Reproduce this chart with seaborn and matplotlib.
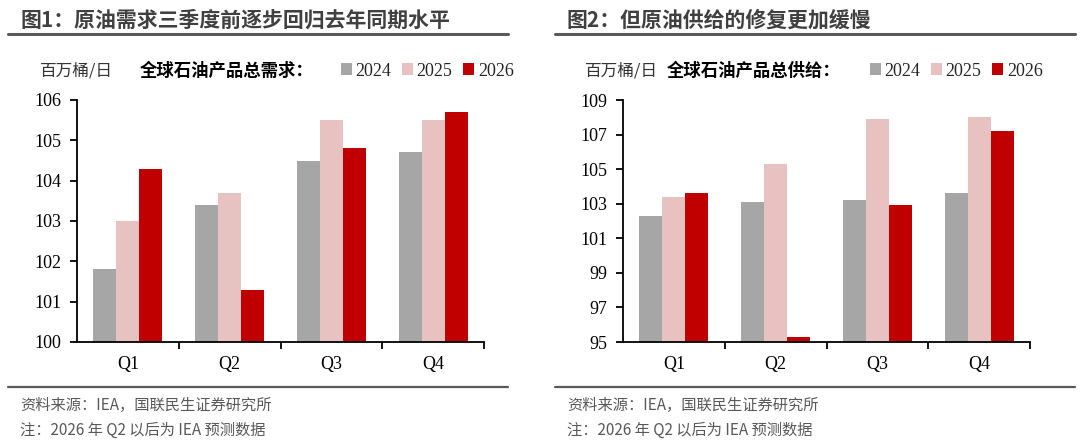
import matplotlib
matplotlib.use("Agg")
import matplotlib.pyplot as plt
from matplotlib.lines import Line2D
import pandas as pd
import seaborn as sns

# data
quarters = ["Q1", "Q2", "Q3", "Q4"]
years = ["2024", "2025", "2026"]
demand_2024 = [101.8, 103.4, 104.5, 104.7]
demand_2025 = [103.0, 103.7, 105.5, 105.5]
demand_2026 = [104.3, 101.3, 104.8, 105.7]
supply_2024 = [102.3, 103.1, 103.2, 103.6]
supply_2025 = [103.4, 105.3, 107.9, 108.0]
supply_2026 = [103.6, 95.3, 102.9, 107.2]

colors = ["#A6A6A6", "#E8C1C1", "#C00000"]

sns.set_theme(style="white")
plt.rcParams["font.family"] = ["Noto Sans CJK SC", "DejaVu Sans"]
SERIF = ["Liberation Serif", "DejaVu Serif"]


def long_table(s24, s25, s26):
    rows = []
    for yr, vals in zip(years, [s24, s25, s26]):
        for q, v in zip(quarters, vals):
            rows.append({"quarter": q, "year": yr, "value": v})
    return pd.DataFrame(rows)


def draw(ax, df, ylim, yticks):
    sns.barplot(data=df, x="quarter", y="value", hue="year", palette=colors,
                width=0.68, saturation=1, linewidth=0, ax=ax, legend=True)
    ax.set_ylim(*ylim)
    ax.set_xlim(-0.5, 3.5)
    ax.set_yticks(yticks)
    ax.set_xlabel("")
    ax.set_ylabel("")
    for s in ["top", "right"]:
        ax.spines[s].set_visible(False)
    for s in ["left", "bottom"]:
        ax.spines[s].set_color("black")
        ax.spines[s].set_linewidth(1.3)
    ax.tick_params(axis="y", direction="out", length=5, width=1.3, color="black",
                   left=True, labelsize=13, pad=6)
    ax.tick_params(axis="x", which="major", length=0, labelsize=13, pad=10)
    ax.set_xticks([0.5, 1.5, 2.5, 3.5], minor=True)
    ax.tick_params(axis="x", which="minor", direction="out", length=5, width=1.3,
                   color="black", bottom=True)
    for lab in ax.get_xticklabels() + ax.get_yticklabels():
        lab.set_fontfamily(SERIF)
        lab.set_color("black")
    handles, labels = ax.get_legend_handles_labels()
    ax.get_legend().remove()
    return handles, labels


fig = plt.figure(figsize=(10.8, 4.44), dpi=100)
ax1 = fig.add_axes([77 / 1080, 102 / 444, 407 / 1080, 242 / 444])
ax2 = fig.add_axes([623 / 1080, 102 / 444, 407 / 1080, 242 / 444])

h1, l1 = draw(ax1, long_table(demand_2024, demand_2025, demand_2026),
              (100, 106), range(100, 107))
h2, l2 = draw(ax2, long_table(supply_2024, supply_2025, supply_2026),
              (95, 109), range(95, 110, 2))

panels = [
    (8, 508, "图1：原油需求三季度前逐步回归去年同期水平", 40, 140, "全球石油产品总需求：", 332, h1, l1),
    (555, 1075, "图2：但原油供给的修复更加缓慢", 585, 667, "全球石油产品总供给：", 861, h2, l2),
]
for x0, x1, title, ux, tx, ttl, lx, hh, ll in panels:
    fig.text((x0 + 12) / 1080, 1 - 20 / 444, title, fontsize=15, fontweight="bold",
             color="#404040", va="center", ha="left")
    fig.add_artist(Line2D([x0 / 1080, x1 / 1080], [1 - 34 / 444] * 2,
                          color="#595959", lw=2.2))
    fig.add_artist(Line2D([x0 / 1080, x1 / 1080], [1 - 387 / 444] * 2,
                          color="#595959", lw=1.6))
    fig.text(ux / 1080, 1 - 71 / 444, "百万桶/日", fontsize=12, color="#333333",
             va="center", ha="left")
    fig.text(tx / 1080, 1 - 71 / 444, ttl, fontsize=12.5, fontweight="bold",
             color="black", va="center", ha="left")
    leg = fig.legend(hh, ll, loc="center left", bbox_to_anchor=(lx / 1080, 1 - 71 / 444),
                     ncol=3, frameon=False, handlelength=0.6, handleheight=0.6,
                     handletextpad=0.2, columnspacing=0.6, borderpad=0,
                     prop={"family": SERIF, "size": 13})
    fig.text((x0 + 12) / 1080, 1 - 405 / 444, "资料来源：IEA，国联民生证券研究所",
             fontsize=11, color="#595959", va="center", ha="left")
    fig.text((x0 + 12) / 1080, 1 - 430 / 444, "注：2026 年 Q2 以后为 IEA 预测数据",
             fontsize=11, color="#595959", va="center", ha="left")

fig.savefig("out.png", dpi=100)
